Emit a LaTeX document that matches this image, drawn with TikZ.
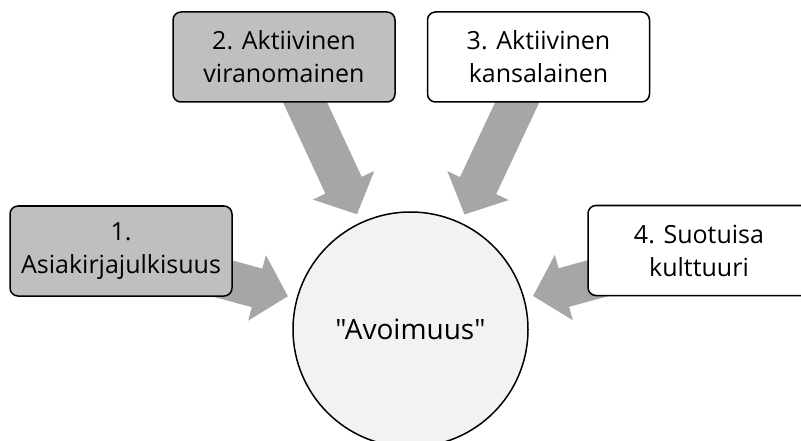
\documentclass[tikz,border=0pt]{standalone}
\usepackage{fontspec}
\setmainfont{Open Sans}[Ligatures=TeXOff]
\usetikzlibrary{arrows.meta,calc,backgrounds}

\definecolor{boxgrey}{HTML}{BFBFBF}
\definecolor{flowgrey}{HTML}{A6A6A6}
\definecolor{coregrey}{HTML}{F2F2F2}

\begin{document}
\begin{tikzpicture}[x=1pt, y=-1pt,
    box/.style={draw=black, line width=1.5pt, rounded corners=8pt,
        minimum width=222pt, minimum height=90pt, inner sep=0pt,
        align=center, font=\fontsize{25}{33}\selectfont},
    greybox/.style={box, fill=boxgrey},
    whitebox/.style={box, fill=white},
    core/.style={circle, draw=black, line width=1.5pt, fill=coregrey,
        minimum size=235pt, inner sep=0pt, font=\fontsize{28}{35}\selectfont},
    flow/.style={draw=flowgrey, line width=40pt,
        -{Triangle[length=32pt, width=66pt]}}]

    % Fix the picture size
    \useasboundingbox (0,0) rectangle (801,441);
    \clip (0,0) rectangle (801,441);

    % Place the centre and the four boxes
    \node[core] (avo) at (410.5,329.5) {"Avoimuus"};
    \node[greybox] (b1) at (121,251) {1.\\Asiakirjajulkisuus};
    \node[greybox] (b2) at (284,57) {2. Aktiivinen\\viranomainen};
    \node[whitebox] (b3) at (538.5,57) {3. Aktiivinen\\kansalainen};
    \node[whitebox] (b4) at (699,250.5) {4. Suotuisa\\kulttuuri};

    % Arrow ends just outside the circle
    \coordinate (t1) at ($(avo.center)!127pt!(b1.center)$);
    \coordinate (t2) at ($(avo.center)!127pt!(b2.center)$);
    \coordinate (t3) at ($(avo.center)!127pt!(b3.center)$);
    \coordinate (t4) at ($(avo.center)!127pt!(b4.center)$);

    % Draw the arrows under the boxes
    \begin{scope}[on background layer]
        \draw[flow] (b1.center) -- (t1);
        \draw[flow] (b2.center) -- (t2);
        \draw[flow] (b3.center) -- (t3);
        \draw[flow] (b4.center) -- (t4);
    \end{scope}

\end{tikzpicture}
\end{document}
